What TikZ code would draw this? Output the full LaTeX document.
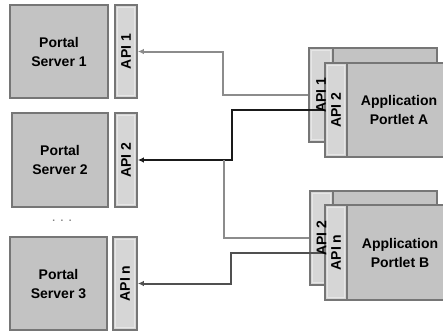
\documentclass[tikz,border=0pt]{standalone}
\usepackage{fontspec}
\setmainfont{Liberation Sans}
\usetikzlibrary{arrows.meta}
\definecolor{boxfill}{HTML}{C3C3C3}
\definecolor{tabfill}{HTML}{D6D6D6}
\definecolor{boxline}{HTML}{767676}
\definecolor{innerline}{HTML}{E6E6E6}
\definecolor{connline}{HTML}{8C8C8C}
\definecolor{darkline}{HTML}{1A1A1A}
\definecolor{midline}{HTML}{505050}
\begin{document}
\begin{tikzpicture}[x=1pt,y=-1pt,
  bigbox/.style={draw=boxline, fill=boxfill, line width=1.7pt, inner sep=0pt, align=center,
    font=\bfseries\fontsize{14}{19}\selectfont},
  tabbox/.style={draw=boxline, fill=tabfill, line width=1.7pt, inner sep=0pt},
  tablabel/.style={rotate=90, inner sep=0pt, font=\bfseries\fontsize{14}{16}\selectfont},
  inset/.style={draw=innerline, line width=0.9pt},
  conn/.style={draw=connline, line width=2pt},
  connb/.style={draw=darkline, line width=2pt},
  connm/.style={draw=midline, line width=2pt},
  tip/.style={-{Latex[length=6pt,width=5.5pt]}}
]
\useasboundingbox (0,0) rectangle (443,333);
% portal servers
\node[bigbox, minimum width=98pt, minimum height=93pt] (ps1) at (59,51.5) {Portal\\Server 1};
\node[tabbox, minimum width=22pt, minimum height=93pt] (api1) at (126,51.5) {};
\node[bigbox, minimum width=96pt, minimum height=94pt] (ps2) at (60,160) {Portal\\Server 2};
\node[tabbox, minimum width=22pt, minimum height=94pt] (api2) at (126,160) {};
\node[text=gray, font=\bfseries\fontsize{10}{10}\selectfont, inner sep=0pt] (dots) at (62,221) {.\ \ .\ \ .};
\node[bigbox, minimum width=97pt, minimum height=93pt] (ps3) at (58.5,283.5) {Portal\\Server 3};
\node[tabbox, minimum width=24pt, minimum height=93pt] (apin) at (125,283.5) {};
\foreach \t in {api1,api2,apin}
  \draw[inset] ([shift={(3,3)}]\t.north west) rectangle ([shift={(-3,-3)}]\t.south east);
% portlet A
\node[tabbox, fill=boxfill, minimum width=128pt, minimum height=94pt] (pAback) at (373,95) {};
\node[tabbox, minimum width=24pt, minimum height=94pt] (pAbacktab) at (321,95) {};
\draw[inset] ([shift={(3,3)}]pAbacktab.north west) rectangle ([shift={(-3,-3)}]pAbacktab.south east);
\node[tabbox, fill=boxfill, minimum width=122pt, minimum height=94pt] (pAfront) at (386,110) {};
\node[tabbox, minimum width=22pt, minimum height=94pt] (pAfronttab) at (336,110) {};
\draw[inset] ([shift={(3,3)}]pAfronttab.north west) rectangle ([shift={(-3,-3)}]pAfronttab.south east);
\node[align=center, inner sep=0pt, font=\bfseries\fontsize{14}{19}\selectfont] (pAtext) at (399,110) {Application\\Portlet A};
% portlet B
\node[tabbox, fill=boxfill, minimum width=127pt, minimum height=94pt] (pBback) at (373.5,238) {};
\node[tabbox, minimum width=23pt, minimum height=94pt] (pBbacktab) at (321.5,238) {};
\draw[inset] ([shift={(3,3)}]pBbacktab.north west) rectangle ([shift={(-3,-3)}]pBbacktab.south east);
\node[tabbox, fill=boxfill, minimum width=122pt, minimum height=95pt] (pBfront) at (386,252.5) {};
\node[tabbox, minimum width=22pt, minimum height=95pt] (pBfronttab) at (336,252.5) {};
\draw[inset] ([shift={(3,3)}]pBfronttab.north west) rectangle ([shift={(-3,-3)}]pBfronttab.south east);
\node[align=center, inner sep=0pt, font=\bfseries\fontsize{14}{19}\selectfont] (pBtext) at (400,252.5) {Application\\Portlet B};
% connectors
\coordinate (j2) at (224,160);
\draw[conn, tip] (pAbacktab.west) -- (223,95) |- (api1.east);
\draw[connb, tip] (pAfronttab.west) -- (232,110) |- (api2.east);
\draw[conn] (pBbacktab.west) -- (224,238) -- (j2);
\draw[connm, tip] (pBfronttab.west) -- (231,252.5) |- (apin.east);
% tab labels
\node[tablabel] (l1) at (api1) {API 1};
\node[tablabel] (l2) at (api2) {API 2};
\node[tablabel] (ln) at (apin) {API n};
\node[tablabel] (la1) at (pAbacktab) {API 1};
\node[tablabel] (la2) at (pAfronttab) {API 2};
\node[tablabel] (lb2) at (pBbacktab) {API 2};
\node[tablabel] (lbn) at (pBfronttab) {API n};
\end{tikzpicture}
\end{document}
